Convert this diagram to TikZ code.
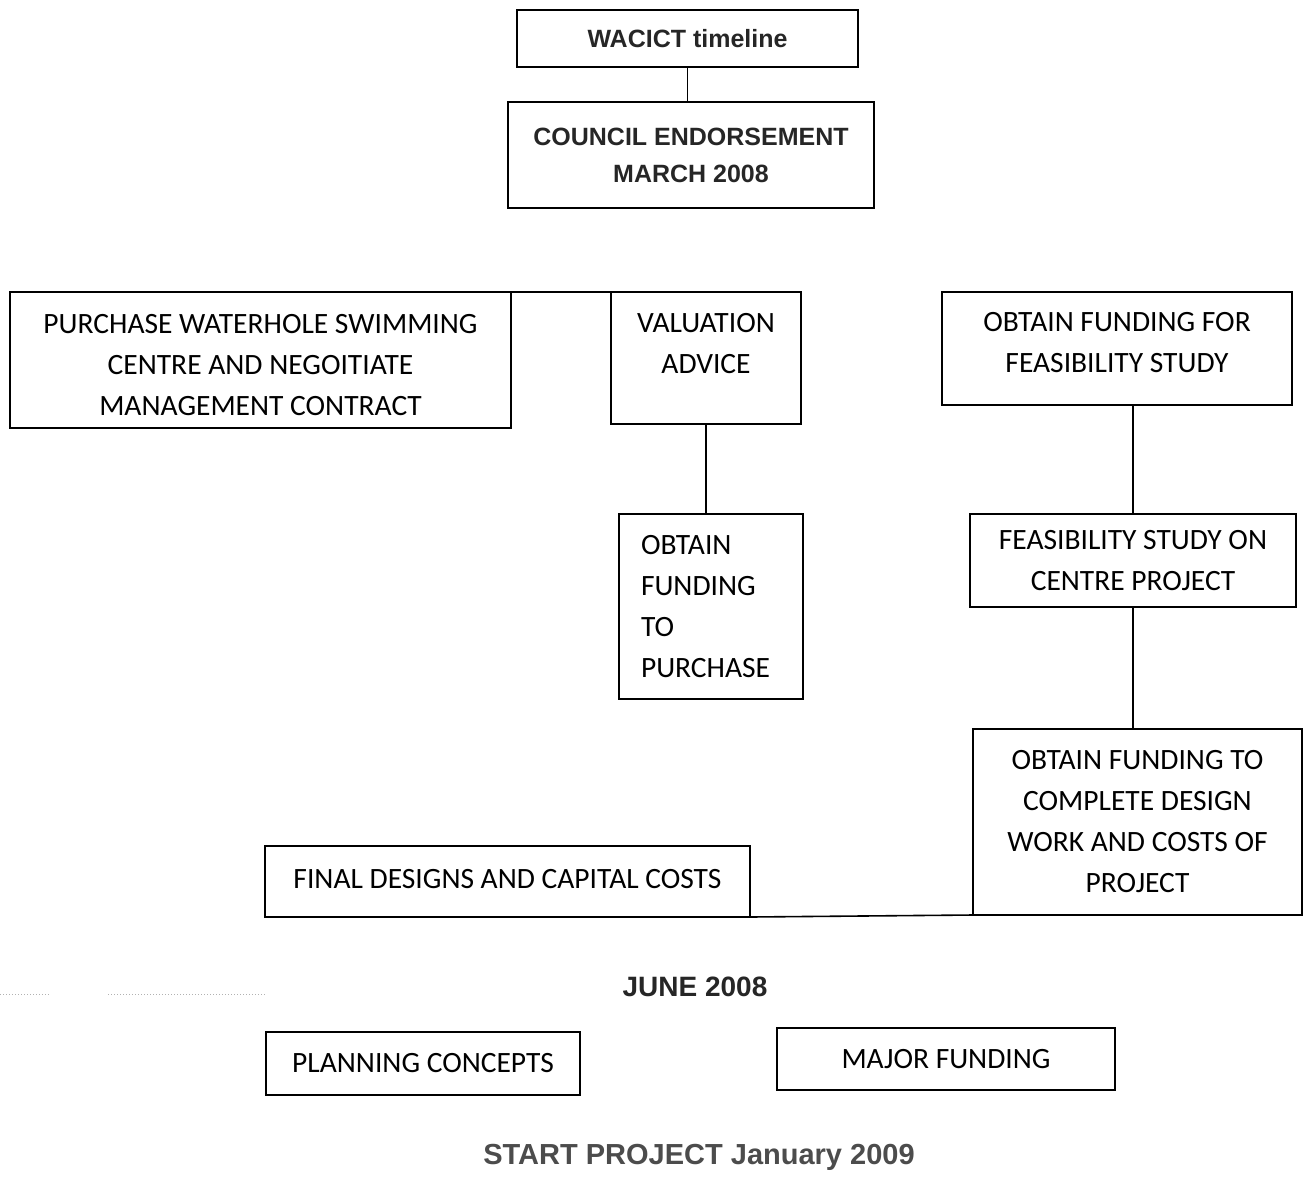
\documentclass[tikz,border=0pt]{standalone}
\usepackage{fontspec}
\setmainfont{Carlito}
\newfontfamily\arialfont{Liberation Sans}
\usepackage{tikz}

\begin{document}
\begin{tikzpicture}[x=1pt,y=-1pt,
    box/.style={draw,line width=1.6pt,outer sep=0pt,inner sep=2pt,align=center,
        font=\fontsize{29.5}{41}\selectfont},
    ttl/.style={font=\arialfont\bfseries\fontsize{25}{37}\selectfont,text=black!85}]
    \useasboundingbox (0,0) rectangle (1303,1200);
    % top of the timeline
    \node[box,ttl,minimum width=341pt,minimum height=57pt] (wacict) at (687.5,38.5) {WACICT timeline};
    \node[box,ttl,minimum width=366pt,minimum height=106pt] (council) at (691,155) {COUNCIL ENDORSEMENT\\MARCH 2008};
    % first row of tasks
    \node[box,minimum width=501pt,minimum height=136pt] (purchase) at (260.5,360) {\rule{0pt}{30pt}PURCHASE WATERHOLE SWIMMING\\CENTRE AND NEGOITIATE\\MANAGEMENT CONTRACT};
    \node[box,minimum width=190pt,minimum height=132pt] (valuation) at (706,358) {\rule{0pt}{30pt}VALUATION\\ADVICE\\~};
    \node[box,minimum width=350pt,minimum height=113pt] (feasfund) at (1117,348.5) {OBTAIN FUNDING FOR\\FEASIBILITY STUDY\rule[-13pt]{0pt}{13pt}};
    % second row
    \node[box,align=left,text width=140pt,inner xsep=22pt,minimum width=184pt,minimum height=185pt] (fundpurch) at (711,606.5) {OBTAIN\\FUNDING\\TO\\PURCHASE};
    \node[box,minimum width=326pt,minimum height=93pt] (feasstudy) at (1133,560.5) {FEASIBILITY STUDY ON\\CENTRE PROJECT};
    \node[box,minimum width=329pt,minimum height=186pt] (fundcomplete) at (1137.5,822) {OBTAIN FUNDING TO\\COMPLETE DESIGN\\WORK AND COSTS OF\\PROJECT};
    \node[box,minimum width=485pt,minimum height=71pt] (final) at (507.5,881.5) {FINAL DESIGNS AND CAPITAL COSTS\rule[-6pt]{0pt}{6pt}};
    % june milestone
    \node[ttl,font=\arialfont\bfseries\fontsize{28}{34}\selectfont] (june) at (695,987) {JUNE 2008};
    \coordinate (dotA) at (0,994);
    \coordinate (dotB) at (50,994);
    \coordinate (dotC) at (108,994);
    \coordinate (dotD) at (265,994);
    \draw[gray!60,dotted,line width=1pt] (dotA) -- (dotB) (dotC) -- (dotD);
    \node[box,minimum width=314pt,minimum height=63pt] (planning) at (423,1063.5) {PLANNING CONCEPTS};
    \node[box,minimum width=338pt,minimum height=62pt] (major) at (946,1059) {MAJOR FUNDING};
    \node[ttl,text=black!70,font=\arialfont\bfseries\fontsize{29}{34}\selectfont] (start) at (699,1157) {START PROJECT January 2009};
    % connectors
    \draw[line width=1.6pt] (wacict.south) -- (wacict.south |- council.north);
    \draw[line width=1.6pt] (purchase.north east) -- (valuation.north west);
    \draw[line width=1.6pt] (valuation.south) -- (valuation.south |- fundpurch.north);
    \draw[line width=1.6pt] (feasstudy.north |- feasfund.south) -- (feasstudy.north);
    \draw[line width=1.6pt] (feasstudy.south) -- (feasstudy.south |- fundcomplete.north);
    \draw[line width=1.6pt] (final.south east) -- (fundcomplete.south west);
\end{tikzpicture}
\end{document}
